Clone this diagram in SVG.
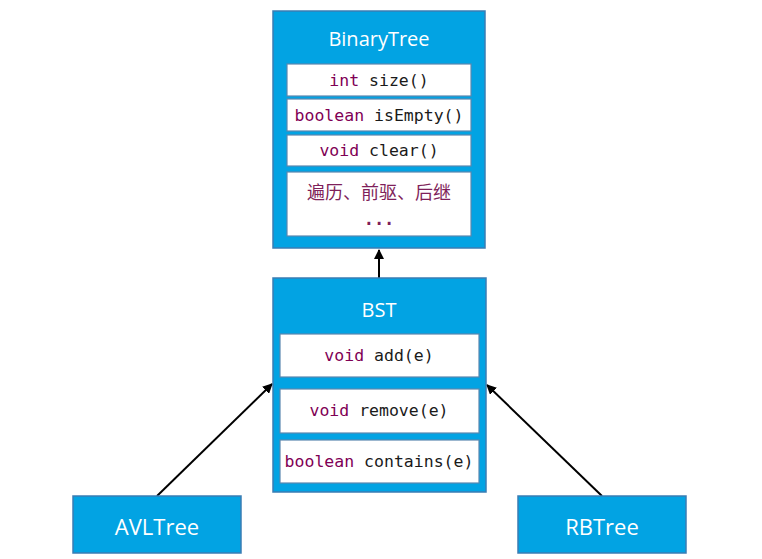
<svg xmlns="http://www.w3.org/2000/svg" width="762" height="559" viewBox="0 0 762 559">
<defs>
<style>
.box{fill:#02A3E3;stroke:#3A7DB4;stroke-width:1.5}
.cell{fill:#fff;stroke:#5A88B0;stroke-width:1.2}
.title{font-family:"Open Sans","Noto Sans",sans-serif;fill:#fff;text-anchor:middle}
.code{font-family:"DejaVu Sans Mono","Liberation Mono",monospace;font-size:16.5px;fill:#1a1a1a;text-anchor:middle}
.kw{fill:#7F0055}
.cjk{font-family:"Noto Sans CJK SC",sans-serif;font-size:18px;fill:#7F1F5A;text-anchor:middle}
.dots{font-family:"DejaVu Sans Mono",monospace;font-size:17px;font-weight:bold;fill:#7F1F5A;text-anchor:middle}
.edge{stroke:#000;stroke-width:2;fill:none;marker-end:url(#arr)}
</style>
<marker id="arr" viewBox="0 0 10 10" refX="9" refY="5" markerWidth="5" markerHeight="5" orient="auto">
<path d="M0,0 L10,5 L0,10 z" fill="#000"/>
</marker>
</defs>
<rect width="762" height="559" fill="#fff"/>
<g id="connectors">
<line class="edge" x1="379" y1="278" x2="379" y2="250"/>
<line class="edge" x1="157" y1="496" x2="272" y2="384"/>
<line class="edge" x1="602" y1="496" x2="487" y2="385"/>
</g>
<g id="BinaryTree">
<rect class="box" x="273" y="11" width="212" height="237"/>
<text class="title" x="379" y="46" font-size="20">BinaryTree</text>
<rect class="cell" x="287" y="64" width="184" height="32"/>
<text class="code" x="379" y="86"><tspan class="kw">int</tspan> size()</text>
<rect class="cell" x="287" y="99" width="184" height="32"/>
<text class="code" x="379" y="121"><tspan class="kw">boolean</tspan> isEmpty()</text>
<rect class="cell" x="287" y="135" width="184" height="31"/>
<text class="code" x="379" y="156"><tspan class="kw">void</tspan> clear()</text>
<rect class="cell" x="287" y="172" width="184" height="64"/>
<text class="cjk" x="379" y="199">遍历、前驱、后继</text>
<text class="dots" x="379" y="225">...</text>
</g>
<g id="BST">
<rect class="box" x="273" y="278" width="213" height="214"/>
<text class="title" x="379" y="317" font-size="20">BST</text>
<rect class="cell" x="280" y="334" width="199" height="43"/>
<text class="code" x="379" y="361"><tspan class="kw">void</tspan> add(e)</text>
<rect class="cell" x="280" y="389" width="199" height="44"/>
<text class="code" x="379" y="416"><tspan class="kw">void</tspan> remove(e)</text>
<rect class="cell" x="280" y="440" width="199" height="43"/>
<text class="code" x="379" y="467"><tspan class="kw">boolean</tspan> contains(e)</text>
</g>
<g id="AVLTree">
<rect class="box" x="73" y="496" width="168" height="57"/>
<text class="title" x="157" y="535" font-size="22">AVLTree</text>
</g>
<g id="RBTree">
<rect class="box" x="518" y="496" width="168" height="57"/>
<text class="title" x="602" y="535" font-size="22">RBTree</text>
</g>
</svg>
